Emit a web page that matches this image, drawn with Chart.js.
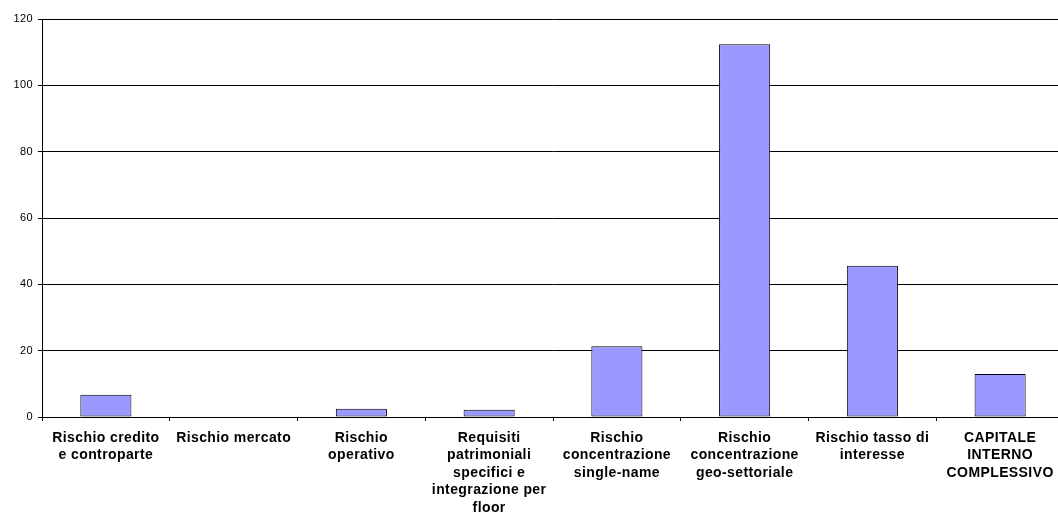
<!DOCTYPE html>
<html>
<head>
<meta charset="utf-8">
<script src="https://cdn.jsdelivr.net/npm/chart.js@4/dist/chart.umd.min.js"></script>
<style>
  html, body { margin: 0; padding: 0; background: #fff; overflow: hidden; }
  #wrap { width: 1064px; height: 514px; position: relative; }
</style>
</head>
<body>
<div id="wrap"><canvas id="c"></canvas></div>
<script>
// Capitale interno per tipologia di rischio
const categories = [
  ["Rischio credito", "e controparte"],
  ["Rischio mercato"],
  ["Rischio", "operativo"],
  ["Requisiti", "patrimoniali", "specifici e", "integrazione per", "floor"],
  ["Rischio", "concentrazione", "single-name"],
  ["Rischio", "concentrazione", "geo-settoriale"],
  ["Rischio tasso di", "interesse"],
  ["CAPITALE", "INTERNO", "COMPLESSIVO"]
];
const capitale = [6.7, 0, 2.5, 2.2, 21.3, 112.4, 45.6, 13.0];
const yTicks = [0, 20, 40, 60, 80, 100, 120];

// widen glyph spacing slightly, as in the original rendering
const spacing = {
  id: 'spacing',
  beforeLayout(chart) { chart.ctx.letterSpacing = '0.4px'; },
  beforeDraw(chart) { chart.ctx.letterSpacing = '0.4px'; }
};

new Chart(document.getElementById('c'), {
  type: 'bar',
  data: {
    labels: categories,
    datasets: [{
      data: capitale,
      backgroundColor: '#9999FF',
      borderColor: '#000',
      borderWidth: 1,
      borderSkipped: false,
      barPercentage: 0.4,
      categoryPercentage: 1.0
    }]
  },
  plugins: [spacing],
  options: {
    responsive: true,
    maintainAspectRatio: false,
    animation: false,
    layout: { padding: { top: 19, left: 0, right: 0, bottom: 0 } },
    plugins: { legend: { display: false }, tooltip: { enabled: false } },
    scales: {
      x: {
        grid: { offset: true, drawOnChartArea: false, drawTicks: true, tickLength: 4, color: '#000' },
        border: { color: '#000', width: 1 },
        ticks: {
          color: '#000',
          maxRotation: 0, minRotation: 0, autoSkip: false,
          padding: 8,
          font: { family: 'Liberation Sans, Arial, sans-serif', size: 14, weight: 'bold', lineHeight: 1.25 }
        },
        afterFit(scale) { scale.height = 97; }
      },
      y: {
        min: 0, max: 120,
        afterBuildTicks(scale) { scale.ticks = yTicks.map(v => ({ value: v })); },
        grid: { color: '#000', lineWidth: 1, drawTicks: true, tickLength: 4 },
        border: { color: '#000', width: 1 },
        ticks: {
          color: '#000',
          padding: 5,
          font: { family: 'Liberation Sans, Arial, sans-serif', size: 11 }
        },
        afterFit(scale) { scale.width = 42; }
      }
    }
  }
});
</script>
</body>
</html>
